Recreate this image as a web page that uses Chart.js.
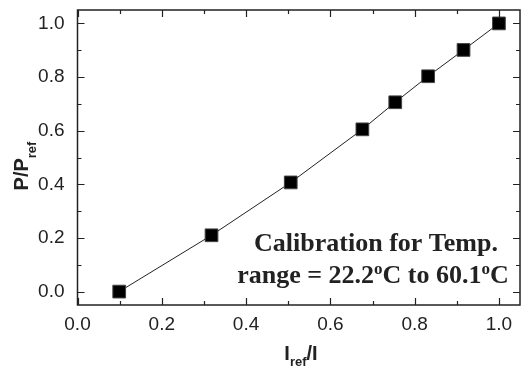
<!DOCTYPE html>
<html>
<head>
<meta charset="utf-8">
<script src="https://cdn.jsdelivr.net/npm/chart.js@4"></script>
<style>
html, body { margin: 0; padding: 0; overflow: hidden; background: #fff; }
</style>
</head>
<body>
<canvas id="calChart" width="530" height="370"></canvas>
<script>
// values
const xValues = [0.099, 0.318, 0.506, 0.676, 0.754, 0.832, 0.916, 1.0];
const yValues = [0.0, 0.21, 0.407, 0.605, 0.706, 0.803, 0.901, 1.0];
const xTicks = [0.0, 0.2, 0.4, 0.6, 0.8, 1.0];
const yTicks = [0.0, 0.2, 0.4, 0.6, 0.8, 1.0];
const xMinorTicks = [0.1, 0.3, 0.5, 0.7, 0.9];
const yMinorTicks = [0.1, 0.3, 0.5, 0.7, 0.9];

const ink = '#222';
const sans = '"Liberation Sans", Arial, sans-serif';
const serif = '"Liberation Serif", "Times New Roman", serif';

// draws a line of text made of pieces, some raised or lowered
function drawParts(ctx, parts, cx, baseline, size, small, family, subDrop) {
    let total = 0;
    parts.forEach(p => {
        ctx.font = 'bold ' + (p.sup || p.sub ? small : size) + 'px ' + family;
        p.w = ctx.measureText(p.t).width;
        total += p.w;
    });
    let x = cx - total / 2;
    parts.forEach(p => {
        ctx.font = 'bold ' + (p.sup || p.sub ? small : size) + 'px ' + family;
        let dy = 0;
        if (p.sup) dy = -size * 0.36;
        if (p.sub) dy = subDrop;
        ctx.fillText(p.t, x, baseline + dy);
        x += p.w;
    });
}

const framePlugin = {
    id: 'frame',
    afterDraw(chart) {
        const ctx = chart.ctx;
        const a = chart.chartArea;
        const xs = chart.scales.x;
        const ys = chart.scales.y;
        ctx.save();
        ctx.strokeStyle = ink;
        ctx.lineWidth = 1.5;
        ctx.strokeRect(a.left, a.top, a.right - a.left, a.bottom - a.top);

        ctx.lineWidth = 1.2;
        const tick = (vals, len) => {
            vals.forEach(v => {
                const px = Math.round(xs.getPixelForValue(v)) + 0.5;
                ctx.beginPath();
                ctx.moveTo(px, a.bottom); ctx.lineTo(px, a.bottom - len);
                ctx.moveTo(px, a.top); ctx.lineTo(px, a.top + len);
                ctx.stroke();
            });
        };
        const ytick = (vals, len) => {
            vals.forEach(v => {
                const py = Math.round(ys.getPixelForValue(v)) + 0.5;
                ctx.beginPath();
                ctx.moveTo(a.left, py); ctx.lineTo(a.left + len, py);
                ctx.moveTo(a.right, py); ctx.lineTo(a.right - len, py);
                ctx.stroke();
            });
        };
        tick(xTicks, 7);
        tick(xMinorTicks, 4);
        ytick(yTicks, 7);
        ytick(yMinorTicks, 4);

        // axis titles
        ctx.fillStyle = ink;
        ctx.textBaseline = 'alphabetic';
        drawParts(ctx, [{ t: 'I' }, { t: 'ref', sub: true }, { t: '/I' }],
            301, 360, 20, 13, sans, 6);
        ctx.save();
        ctx.translate(28, 166);
        ctx.rotate(-Math.PI / 2);
        drawParts(ctx, [{ t: 'P/P' }, { t: 'ref', sub: true }], 0, 0, 20, 13, sans, 8);
        ctx.restore();

        // annotation
        drawParts(ctx, [{ t: 'Calibration for Temp.' }], 376, 251, 26, 17, serif, 0);
        drawParts(ctx, [{ t: 'range = 22.2' }, { t: 'o', sup: true }, { t: 'C to 60.1' },
            { t: 'o', sup: true }, { t: 'C' }], 373, 283, 26, 17, serif, 0);
        ctx.restore();
    }
};

new Chart(document.getElementById('calChart').getContext('2d'), {
    type: 'scatter',
    data: {
        datasets: [{
            data: xValues.map((x, i) => ({ x: x, y: yValues[i] })),
            showLine: true,
            borderColor: ink,
            borderWidth: 1,
            pointStyle: 'rect',
            pointRadius: 9,
            pointHoverRadius: 9,
            pointBackgroundColor: '#000',
            pointBorderColor: '#444',
            pointBorderWidth: 1,
        }],
    },
    options: {
        responsive: false,
        animation: false,
        devicePixelRatio: 1,
        layout: { padding: { left: 0, top: 8, right: 5, bottom: 0 } },
        plugins: {
            legend: { display: false },
            tooltip: { enabled: false },
        },
        scales: {
            x: {
                type: 'linear',
                min: 0,
                max: 1.05,
                afterBuildTicks: scale => { scale.ticks = xTicks.map(v => ({ value: v })); },
                afterFit: scale => {
                    scale.height = 65;
                    scale.paddingLeft = 0;
                    scale.paddingRight = 0;
                },
                grid: { display: false },
                border: { display: false },
                ticks: {
                    color: ink,
                    padding: 0,
                    maxRotation: 0,
                    font: { family: sans, size: 19 },
                    callback: v => v.toFixed(1),
                },
            },
            y: {
                min: -0.05,
                max: 1.05,
                afterBuildTicks: scale => { scale.ticks = yTicks.map(v => ({ value: v })); },
                afterFit: scale => {
                    scale.width = 77.5;
                    scale.paddingTop = 0;
                    scale.paddingBottom = 0;
                },
                grid: { display: false },
                border: { display: false },
                ticks: {
                    color: ink,
                    padding: 5,
                    font: { family: sans, size: 19 },
                    callback: v => v.toFixed(1),
                },
            },
        },
    },
    plugins: [framePlugin],
});
</script>
</body>
</html>
